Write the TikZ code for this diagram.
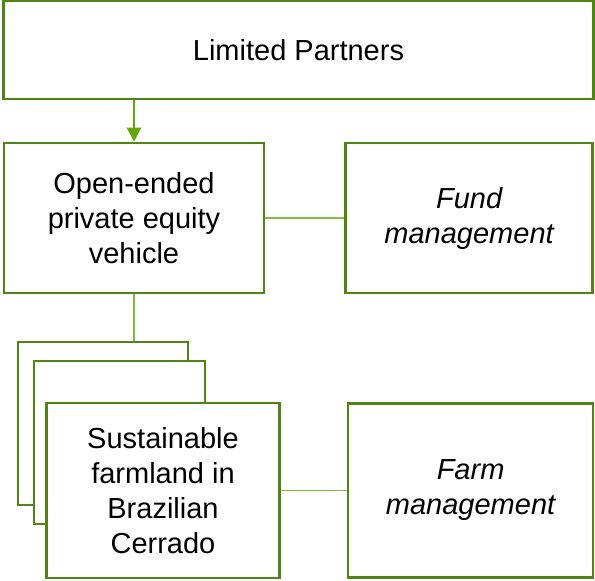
\documentclass[tikz,border=0pt]{standalone}
\usepackage{fontspec}
\setmainfont{Liberation Sans}
\usetikzlibrary{arrows.meta, positioning}

\definecolor{boxgreen}{RGB}{80,133,22}
\definecolor{linkgreen}{RGB}{128,186,66}
\definecolor{arrowgreen}{RGB}{98,168,12}

\tikzset{
    box/.style={draw=boxgreen, line width=2.6pt, fill=white, align=center,
        inner sep=0pt, font=\fontsize{29}{35}\selectfont},
    link/.style={draw=linkgreen, line width=1.4pt},
}

\begin{document}
\begin{tikzpicture}[x=1pt, y=1pt]
    \useasboundingbox (0,0) rectangle (595,-581);

    \node[box, minimum width=590pt, minimum height=98pt] (lp) at (298.5,-50) {Limited Partners};
    \node[box, minimum width=260pt, minimum height=150pt] (vehicle) at (134,-218)
        {Open-ended\\private equity\\vehicle};
    \node[box, minimum width=247pt, minimum height=150pt, right=79pt of vehicle] (fund)
        {\itshape Fund\\\itshape management};

    % stacked farm boxes
    \node[box, minimum width=170pt, minimum height=163pt] (farm3) at (103,-423.5) {};
    \node[box, minimum width=171pt, minimum height=163pt] (farm2) at (119.5,-442.5) {};
    \node[box, minimum width=233pt, minimum height=175pt] (farm1) at (163,-490.5)
        {Sustainable\\farmland in\\Brazilian\\Cerrado};
    \node[box, minimum width=245pt, minimum height=174pt, right=66pt of farm1] (farmmgmt)
        {\itshape Farm\\\itshape management};

    \draw[arrowgreen, line width=2.4pt, -{Triangle[width=14pt, length=14pt]}]
        (lp.south -| vehicle) -- (vehicle.north);
    \draw[link] (vehicle.east) -- (fund.west);
    \draw[link] (vehicle.south) -- (farm3.north -| vehicle.south);
    \draw[link] (farm1.east) -- (farmmgmt.west);
\end{tikzpicture}
\end{document}
